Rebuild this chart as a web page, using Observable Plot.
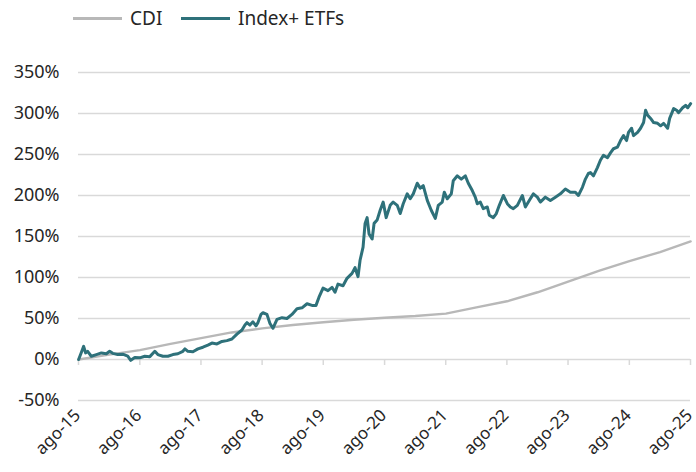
<!DOCTYPE html>
<html>
<head>
<meta charset="utf-8">
<script src="https://cdn.jsdelivr.net/npm/d3@7"></script>
<script src="https://cdn.jsdelivr.net/npm/@observablehq/plot@0.6"></script>
<style>
  html, body { margin: 0; padding: 0; background: #fff; }
  body { width: 696px; height: 472px; overflow: hidden; font-family: "Noto Sans", sans-serif; color: #262626; }
  #legend { height: 36px; position: relative; font-size: 19px; }
  .item { position: absolute; top: 0; height: 36px; display: flex; align-items: center; }
  .sw { display: inline-block; width: 49px; height: 3px; margin-right: 8px; }
</style>
</head>
<body>
<div id="legend"></div>
<div id="chart"></div>
<script>
// Series names and colours
const seriesNames = ["CDI", "Index+ ETFs"];
const seriesColors = ["#b8b8b8", "#2e717a"];

// X tick labels (Aug of each year) and Y ticks
const xTickYears = [2015, 2016, 2017, 2018, 2019, 2020, 2021, 2022, 2023, 2024, 2025];
const xTickLabels = ["ago-15","ago-16","ago-17","ago-18","ago-19","ago-20","ago-21","ago-22","ago-23","ago-24","ago-25"];
const yTicks = [-50, 0, 50, 100, 150, 200, 250, 300, 350];

// CDI cumulative return (%), [decimal year, value]
const cdi = [
  [2015.583, 0], [2016.083, 6], [2016.583, 11.5], [2017.083, 19], [2017.583, 26],
  [2018.083, 33], [2018.583, 38], [2019.083, 42], [2019.583, 45.5], [2020.083, 48.5],
  [2020.583, 51], [2021.083, 53], [2021.583, 56], [2022.083, 63.5], [2022.583, 71],
  [2023.083, 82], [2023.583, 95], [2024.083, 108], [2024.583, 120], [2025.083, 131],
  [2025.583, 144]
];

// Index+ ETFs cumulative return (%), [decimal year, value]
const etf = [
  [2015.583, 0], [2015.627, 8.5], [2015.665, 16], [2015.698, 8], [2015.730, 10],
  [2015.791, 4], [2015.873, 6], [2015.955, 8], [2016.036, 7], [2016.090, 10],
  [2016.140, 7.5], [2016.221, 6], [2016.303, 6.5], [2016.385, 4], [2016.434, -1],
  [2016.500, 2.5], [2016.581, 2], [2016.663, 4], [2016.745, 3.5], [2016.827, 10],
  [2016.876, 6], [2016.958, 4], [2017.040, 4], [2017.122, 6], [2017.203, 7],
  [2017.285, 10], [2017.318, 13], [2017.367, 10], [2017.449, 9.5], [2017.531, 13],
  [2017.613, 15], [2017.694, 17.5], [2017.760, 20], [2017.842, 19], [2017.924, 22],
  [2018.005, 23], [2018.087, 25], [2018.169, 31], [2018.251, 36], [2018.300, 42],
  [2018.333, 45], [2018.382, 42], [2018.431, 46], [2018.480, 41], [2018.513, 45],
  [2018.562, 55], [2018.595, 57], [2018.660, 55], [2018.709, 44], [2018.758, 38],
  [2018.824, 49], [2018.906, 51], [2018.987, 50], [2019.069, 55], [2019.151, 62],
  [2019.233, 63], [2019.315, 68], [2019.397, 66], [2019.462, 66], [2019.511, 76],
  [2019.577, 87], [2019.658, 84], [2019.724, 88], [2019.773, 82], [2019.822, 92],
  [2019.904, 90], [2019.969, 99], [2020.051, 105], [2020.100, 112], [2020.149, 101],
  [2020.182, 121], [2020.231, 137], [2020.264, 166], [2020.297, 173], [2020.329, 153],
  [2020.379, 147], [2020.411, 166], [2020.460, 170], [2020.510, 182], [2020.559, 192],
  [2020.608, 173], [2020.673, 188], [2020.722, 192], [2020.788, 188], [2020.837, 178],
  [2020.886, 190], [2020.951, 202], [2021.000, 196], [2021.050, 202], [2021.115, 215],
  [2021.164, 209], [2021.213, 212], [2021.279, 194], [2021.344, 182], [2021.410, 172],
  [2021.459, 188], [2021.524, 192], [2021.557, 204], [2021.606, 196], [2021.672, 202],
  [2021.704, 218], [2021.770, 224], [2021.835, 220], [2021.901, 224], [2021.950, 215],
  [2022.015, 206], [2022.064, 198], [2022.097, 190], [2022.146, 192], [2022.195, 184],
  [2022.261, 186], [2022.293, 176], [2022.359, 173], [2022.408, 178], [2022.457, 188],
  [2022.523, 200], [2022.588, 190], [2022.637, 186], [2022.686, 184], [2022.752, 188],
  [2022.834, 200], [2022.883, 186], [2022.964, 196], [2023.014, 202], [2023.079, 198],
  [2023.128, 192], [2023.210, 198], [2023.292, 194], [2023.374, 198], [2023.456, 202],
  [2023.537, 208], [2023.619, 204], [2023.701, 204], [2023.750, 200], [2023.816, 210],
  [2023.865, 220], [2023.914, 227], [2023.947, 228], [2023.996, 224], [2024.061, 234],
  [2024.110, 243], [2024.159, 249], [2024.225, 246], [2024.274, 252], [2024.323, 257],
  [2024.388, 259], [2024.438, 267], [2024.487, 273], [2024.536, 267], [2024.568, 277],
  [2024.618, 282], [2024.650, 273], [2024.716, 277], [2024.765, 282], [2024.814, 289],
  [2024.847, 304], [2024.879, 298], [2024.929, 294], [2024.978, 289], [2025.043, 288],
  [2025.092, 285], [2025.141, 288], [2025.207, 282], [2025.240, 294], [2025.305, 306],
  [2025.354, 304], [2025.387, 301], [2025.452, 307], [2025.501, 310], [2025.534, 307],
  [2025.583, 312]
];

// decimal year -> UTC date
function toDate(t) {
  const y = Math.floor(t);
  const s = Date.UTC(y, 0, 1), e = Date.UTC(y + 1, 0, 1);
  return new Date(s + (t - y) * (e - s));
}
const xTicks = xTickYears.map(y => new Date(Date.UTC(y, 7, 1)));
const xLabelData = xTicks.map((d, i) => ({date: d, label: xTickLabels[i]}));

const cdiData = cdi.map(([t, v]) => ({date: toDate(t), value: v}));
const etfData = etf.map(([t, v]) => ({date: toDate(t), value: v}));

// Legend
const legend = document.getElementById("legend");
const legendX = [73, 181];
seriesNames.forEach((name, i) => {
  const it = document.createElement("div");
  it.className = "item";
  it.style.left = legendX[i] + "px";
  it.innerHTML = `<span class="sw" style="background:${seriesColors[i]}"></span><span>${name}</span>`;
  legend.appendChild(it);
});

const grid = "#d9d9d9";
const chart = Plot.plot({
  width: 696,
  height: 436,
  marginTop: 36,
  marginLeft: 78,
  marginRight: 6,
  marginBottom: 72,
  style: {fontFamily: "Noto Sans, sans-serif", fontSize: "18px", color: "#262626", background: "#fff", overflow: "visible"},
  x: {type: "utc", domain: [xTicks[0], xTicks[xTicks.length - 1]], axis: null},
  y: {domain: [-50, 350], label: null, axis: null},
  marks: [
    Plot.gridY(yTicks, {stroke: grid, strokeOpacity: 1, strokeWidth: 1.5}),
    Plot.ruleX(xTicks, {x: d => d, y1: 0, y2: 0, insetBottom: -6, stroke: grid, strokeWidth: 1.5}),
    Plot.axisY(yTicks, {tickSize: 0, tickPadding: 19, tickFormat: d => d + "%", fontSize: 18, label: null}),
    Plot.text(xLabelData, {
      x: "date", text: "label", frameAnchor: "bottom", dx: -1, dy: 12,
      rotate: -45, textAnchor: "end", lineAnchor: "middle", fontSize: 17, fill: "#262626"
    }),
    Plot.line(cdiData, {x: "date", y: "value", stroke: seriesColors[0], strokeWidth: 2.4}),
    Plot.line(etfData, {x: "date", y: "value", stroke: seriesColors[1], strokeWidth: 3, strokeLinejoin: "round"})
  ]
});
document.getElementById("chart").appendChild(chart);
</script>
</body>
</html>
